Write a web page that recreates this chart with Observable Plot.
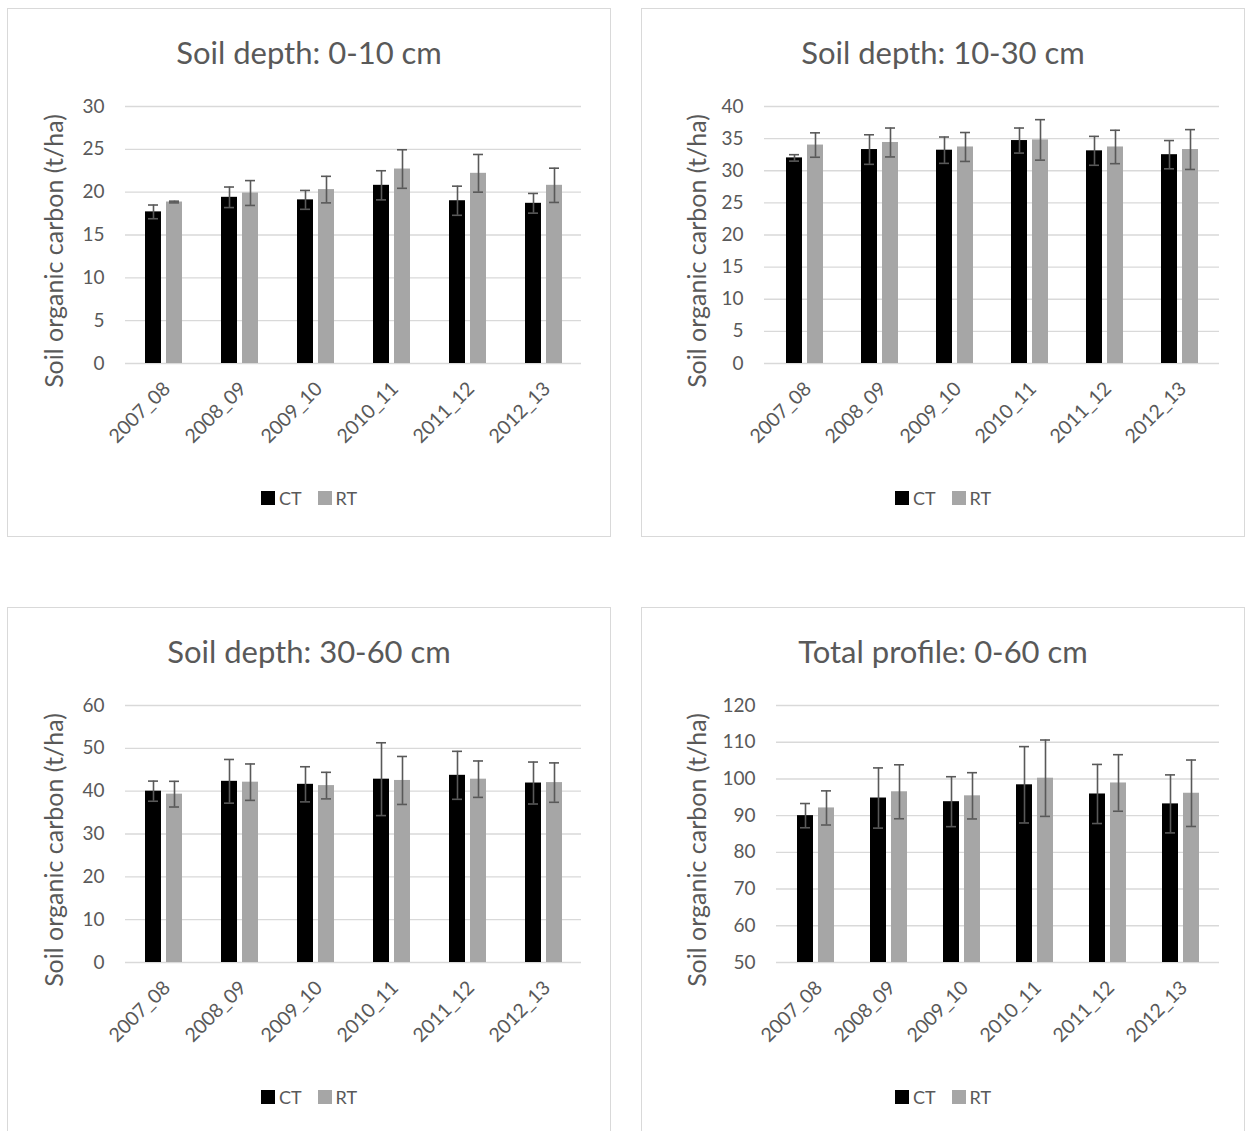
<!DOCTYPE html>
<html>
<head>
<meta charset="utf-8">
<script src="https://cdn.jsdelivr.net/npm/d3@7"></script>
<script src="https://cdn.jsdelivr.net/npm/@observablehq/plot@0.6"></script>
<style>
  html, body { margin: 0; padding: 0; background: #fff; }
  body { font-family: Lato, "Open Sans", sans-serif; color: #595959; }
  #page { position: relative; width: 1247px; height: 1131px; overflow: hidden; background: #fff; }
  .box { position: absolute; border: 1px solid #d9d9d9; box-sizing: border-box; }
  .title { position: absolute; text-align: center; font-size: 31px; line-height: 38px; color: #595959; white-space: nowrap; }
  .ytitle { position: absolute; font-size: 25px; line-height: 30px; color: #595959; white-space: nowrap; transform: translate(-50%, -50%) rotate(-90deg); }
  .legend { position: absolute; display: flex; align-items: center; justify-content: center; font-size: 18px; color: #595959; }
  .legend .sw { width: 14px; height: 14px; display: inline-block; margin-right: 4px; }
  .legend .item { display: flex; align-items: center; margin: 0 8px; }
  .plot { position: absolute; }
</style>
</head>
<body>
<div id="page"></div>
<script>
// ---- data ----
const years = ["2007_08", "2008_09", "2009_10", "2010_11", "2011_12", "2012_13"];
const seriesNames = ["CT", "RT"];
const seriesColors = ["#000000", "#a6a6a6"];

// Soil depth 0-10 cm
const ct_0_10 = [17.7, 19.4, 19.1, 20.8, 19.0, 18.7];
const ct_0_10_err = [0.8, 1.2, 1.1, 1.7, 1.7, 1.15];
const rt_0_10 = [18.85, 19.9, 20.3, 22.7, 22.2, 20.8];
const rt_0_10_err = [0.1, 1.45, 1.55, 2.25, 2.2, 2.0];
const ticks_0_10 = [0, 5, 10, 15, 20, 25, 30];

// Soil depth 10-30 cm
const ct_10_30 = [32.0, 33.3, 33.2, 34.7, 33.1, 32.5];
const ct_10_30_err = [0.5, 2.3, 2.05, 1.95, 2.25, 2.2];
const rt_10_30 = [34.0, 34.4, 33.7, 34.8, 33.7, 33.3];
const rt_10_30_err = [1.9, 2.25, 2.25, 3.15, 2.6, 3.1];
const ticks_10_30 = [0, 5, 10, 15, 20, 25, 30, 35, 40];

// Soil depth 30-60 cm
const ct_30_60 = [40.0, 42.3, 41.6, 42.8, 43.7, 41.9];
const ct_30_60_err = [2.35, 5.1, 4.1, 8.5, 5.6, 4.9];
const rt_30_60 = [39.3, 42.1, 41.3, 42.5, 42.8, 42.0];
const rt_30_60_err = [3.0, 4.25, 3.1, 5.6, 4.25, 4.6];
const ticks_30_60 = [0, 10, 20, 30, 40, 50, 60];

// Total profile 0-60 cm
const ct_0_60 = [90.0, 94.8, 93.8, 98.4, 95.9, 93.2];
const ct_0_60_err = [3.3, 8.2, 6.8, 10.4, 8.05, 7.9];
const rt_0_60 = [92.1, 96.5, 95.4, 100.2, 98.9, 96.1];
const rt_0_60_err = [4.65, 7.35, 6.3, 10.4, 7.7, 9.05];
const ticks_0_60 = [50, 60, 70, 80, 90, 100, 110, 120];

const titles = ["Soil depth: 0-10 cm", "Soil depth: 10-30 cm", "Soil depth: 30-60 cm", "Total profile: 0-60 cm"];
const yTitle = "Soil organic carbon (t/ha)";

// ---- layout ----
const page = document.getElementById("page");
const panels = [
  {box: [7, 8, 604, 529], title: titles[0], ct: ct_0_10, ctE: ct_0_10_err, rt: rt_0_10, rtE: rt_0_10_err, ticks: ticks_0_10, ml: 118, mr: 30, yt: 53},
  {box: [641, 8, 604, 529], title: titles[1], ct: ct_10_30, ctE: ct_10_30_err, rt: rt_10_30, rtE: rt_10_30_err, ticks: ticks_10_30, ml: 123, mr: 26, yt: 696},
  {box: [7, 607, 604, 529], title: titles[2], ct: ct_30_60, ctE: ct_30_60_err, rt: rt_30_60, rtE: rt_30_60_err, ticks: ticks_30_60, ml: 118, mr: 30, yt: 53},
  {box: [641, 607, 604, 529], title: titles[3], ct: ct_0_60, ctE: ct_0_60_err, rt: rt_0_60, rtE: rt_0_60_err, ticks: ticks_0_60, ml: 135, mr: 26, yt: 696}
];

const BAR = 16, GAP = 5, GROUP = BAR * 2 + GAP;

panels.forEach(p => {
  const [bx, by, bw, bh] = p.box;
  const box = document.createElement("div");
  box.className = "box";
  Object.assign(box.style, {left: bx + "px", top: by + "px", width: bw + "px", height: bh + "px"});
  page.appendChild(box);

  const t = document.createElement("div");
  t.className = "title";
  t.textContent = p.title;
  Object.assign(t.style, {left: bx + "px", width: bw + "px", top: (by + 25) + "px"});
  page.appendChild(t);

  const rows = [];
  years.forEach((y, i) => {
    rows.push({year: y, s: "CT", v: p.ct[i], e: p.ctE[i]});
    rows.push({year: y, s: "RT", v: p.rt[i], e: p.rtE[i]});
  });
  const CT = rows.filter(d => d.s === "CT");
  const RT = rows.filter(d => d.s === "RT");
  const base = p.ticks[0];
  const W = bw, H = 360, mt = 18, mb = 85;
  const plotW = W - p.ml - p.mr;
  const step = plotW / years.length;
  const pad = 1 - GROUP / step;
  const errStyle = {stroke: "#595959", strokeWidth: 1.6};

  const chart = Plot.plot({
    width: W, height: H,
    marginLeft: p.ml, marginRight: p.mr, marginTop: mt, marginBottom: mb,
    style: {fontFamily: "Lato, 'Open Sans', sans-serif", fontSize: "18px", color: "#595959", background: "transparent", overflow: "visible"},
    x: {domain: years, paddingInner: pad, paddingOuter: pad / 2, align: 0.5},
    y: {domain: [base, p.ticks[p.ticks.length - 1]]},
    marks: [
      Plot.gridY(p.ticks, {stroke: "#d9d9d9", strokeOpacity: 1, strokeWidth: 1.4}),
      Plot.barY(CT, {x: "year", y1: base, y2: "v", fill: seriesColors[0], insetRight: GROUP - BAR}),
      Plot.barY(RT, {x: "year", y1: base, y2: "v", fill: seriesColors[1], insetLeft: GROUP - BAR}),
      Plot.ruleX(CT, {x: "year", y1: d => d.v - d.e, y2: d => d.v + d.e, dx: -(BAR + GAP) / 2, ...errStyle}),
      Plot.ruleX(RT, {x: "year", y1: d => d.v - d.e, y2: d => d.v + d.e, dx: (BAR + GAP) / 2, ...errStyle}),
      Plot.tickY(CT, {x: "year", y: d => d.v + d.e, insetLeft: 3, insetRight: GROUP - 13, ...errStyle}),
      Plot.tickY(CT, {x: "year", y: d => d.v - d.e, insetLeft: 3, insetRight: GROUP - 13, ...errStyle}),
      Plot.tickY(RT, {x: "year", y: d => d.v + d.e, insetLeft: GROUP - 13, insetRight: 3, ...errStyle}),
      Plot.tickY(RT, {x: "year", y: d => d.v - d.e, insetLeft: GROUP - 13, insetRight: 3, ...errStyle}),
      Plot.axisY(p.ticks, {tickSize: 0, tickPadding: 21, label: null, fill: "#595959", fontSize: 19}),
      Plot.axisX({tickSize: 0, tickPadding: 22, tickRotate: -45, label: null, dx: 3, fill: "#595959", fontSize: 19.5})
    ]
  });
  chart.classList.add("plot");
  Object.assign(chart.style, {left: bx + "px", top: (by + 80) + "px"});
  page.appendChild(chart);

  const yt = document.createElement("div");
  yt.className = "ytitle";
  yt.textContent = yTitle;
  Object.assign(yt.style, {left: p.yt + "px", top: (by + 98 + (H - mt - mb) / 2 + 16) + "px"});
  page.appendChild(yt);

  const lg = document.createElement("div");
  lg.className = "legend";
  Object.assign(lg.style, {left: bx + "px", width: bw + "px", top: (by + 478) + "px", height: "24px"});
  seriesNames.forEach((n, i) => {
    const it = document.createElement("span");
    it.className = "item";
    const sw = document.createElement("span");
    sw.className = "sw";
    sw.style.background = seriesColors[i];
    const tx = document.createElement("span");
    tx.textContent = n;
    it.appendChild(sw); it.appendChild(tx);
    lg.appendChild(it);
  });
  page.appendChild(lg);
});
</script>
</body>
</html>
